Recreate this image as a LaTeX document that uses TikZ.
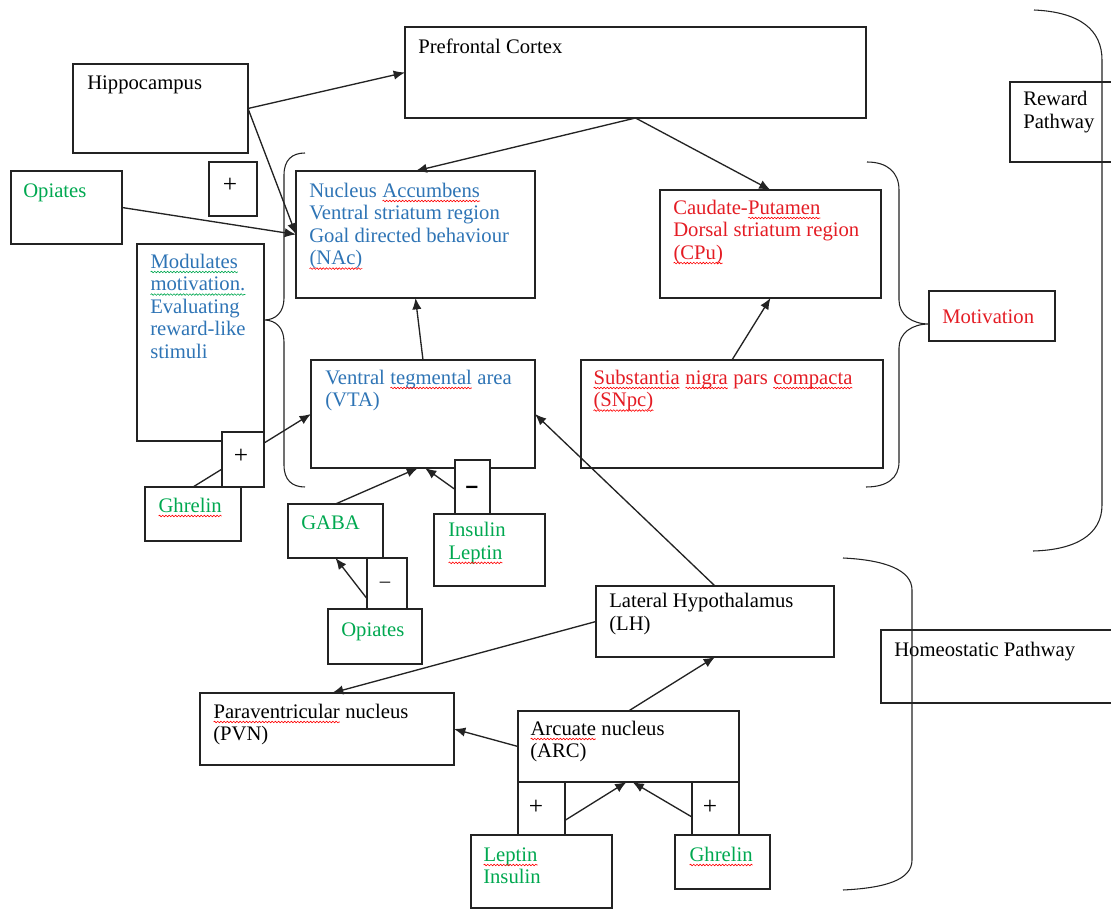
\documentclass[tikz,border=0pt]{standalone}
\usepackage{fontspec}
\setmainfont{Liberation Serif}
\setsansfont{Liberation Sans}
\usetikzlibrary{arrows.meta,fit,calc,decorations.pathmorphing}
\definecolor{tblue}{RGB}{46,116,181}
\definecolor{tred}{RGB}{228,28,36}
\definecolor{tgreen}{RGB}{0,168,80}
\definecolor{lc}{RGB}{35,35,35}
\newcommand\wavy[2]{\tikz[baseline=(wv.base)]{\node[inner sep=0pt,outer sep=0pt,anchor=base] (wv) {#2};
  \draw[#1, line width=0.45pt, decorate, decoration={snake, amplitude=0.6pt, segment length=2.4pt}]
  ([yshift=-2.8pt]wv.base west) -- ([yshift=-2.8pt]wv.base east);}}
\newcommand\rw[1]{\wavy{red}{#1}}
\newcommand\gw[1]{\wavy{tgreen}{#1}}
\begin{document}
\begin{tikzpicture}[x=0.75pt,y=-0.75pt,
  bx/.style={draw=lc, line width=0.9pt, inner sep=0pt, outer sep=0pt},
  sgbox/.style={draw=lc, line width=0.9pt, inner sep=0pt, outer sep=0pt, fill=white},
  txt/.style={anchor=north west, inner sep=0pt, align=left,
    font=\fontsize{15.5}{16.9}\selectfont, execute at begin node=\rule{0pt}{12pt}},
  sign/.style={inner sep=0pt, font=\fontsize{19}{20}\selectfont},
  conn/.style={draw=lc, line width=1pt, -{Latex[length=8.5pt,width=7pt]}},
  brc/.style={draw=lc, line width=0.8pt}]
\useasboundingbox (0,0) rectangle (1111,909);
% main boxes
\node[bx, fit={(73,64)(248,153)}] (hip) {};
\node[bx, fit={(405,27)(866,118)}] (pfc) {};
\node[bx, fit={(1010,82)(1125,162)}] (rew) {};
\node[bx, fit={(11,171)(122,244)}] (opi1) {};
\node[bx, fit={(296,171)(535,298)}] (nac) {};
\node[bx, fit={(660,190)(881,298)}] (cpu) {};
\node[bx, fit={(137,244)(264,441)}] (mod) {};
\node[bx, fit={(311,360)(535,468)}] (vta) {};
\node[bx, fit={(581,360)(883,468)}] (snpc) {};
\node[bx, fit={(929,291)(1055,341)}] (mot) {};
\node[bx, fit={(145,487)(241,541)}] (ghr1) {};
\node[bx, fit={(288,504)(383,558)}] (gaba) {};
\node[bx, fit={(434,514)(545,586)}] (ins1) {};
\node[bx, fit={(328,609)(422,664)}] (opi2) {};
\node[bx, fit={(596,586)(834,657)}] (lh) {};
\node[bx, fit={(200,693)(454,765)}] (pvn) {};
\node[bx, fit={(518,711)(739,782)}] (arc) {};
\node[bx, fit={(471,835)(612,908)}] (lep2) {};
\node[bx, fit={(675,835)(770,889)}] (ghr2) {};
\node[bx, fit={(881,630)(1125,703)}] (homeo) {};
% texts
\node[txt] (thip) at (87,73) {Hippocampus};
\node[txt] (tpfc) at (418,37) {Prefrontal Cortex};
\node[txt] (trew) at (1023,91) {Reward\\Pathway};
\node[txt, text=tgreen] (topi1) at (23,181) {Opiates};
\node[txt, text=tblue] (tnac) at (309,181) {Nucleus \rw{Accumbens}\\Ventral striatum region\\Goal directed behaviour\\\rw{(NAc)}};
\node[txt, text=tred] (tcpu) at (673,198) {Caudate-\rw{Putamen}\\Dorsal striatum region\\\rw{(CPu)}};
\node[txt, text=tblue] (tmod) at (150,252) {\gw{Modulates}\\\gw{motivation.}\\Evaluating\\reward-like\\stimuli};
\node[txt, text=tblue] (tvta) at (325,368) {Ventral \rw{tegmental} area\\(VTA)};
\node[txt, text=tred] (tsnpc) at (593,368) {\rw{Substantia} \rw{nigra} pars \rw{compacta}\\\rw{(SNpc)}};
\node[txt, text=tred] (tmot) at (942,307) {Motivation};
\node[txt, text=tgreen] (tghr1) at (158,496) {\rw{Ghrelin}};
\node[txt, text=tgreen] (tgaba) at (301,513) {GABA};
\node[txt, text=tgreen] (tins1) at (448,522) {Insulin\\\rw{Leptin}};
\node[txt, text=tgreen] (topi2) at (341,620) {Opiates};
\node[txt] (tlh) at (609,593) {Lateral Hypothalamus\\(LH)};
\node[txt] (tpvn) at (213,702) {\rw{Paraventricular} nucleus\\(PVN)};
\node[txt] (tarc) at (530,719) {\rw{Arcuate} nucleus\\(ARC)};
\node[txt, text=tgreen] (tlep2) at (483,845) {\rw{Leptin}\\Insulin};
\node[txt, text=tgreen] (tghr2) at (689,845) {\rw{Ghrelin}};
\node[txt] (thomeo) at (894,640) {Homeostatic Pathway};
% braces and brackets
\draw[brc] (305,153) .. controls (292,153) and (284,160) .. (284,175) -- (284,298)
  .. controls (284,312) and (276,320) .. (264,320)
  .. controls (276,320) and (284,328) .. (284,342) -- (284,465)
  .. controls (284,480) and (292,487) .. (305,487);
\draw[brc] (867,162) .. controls (887,162) and (899,172) .. (899,190) -- (899,300)
  .. controls (899,315) and (912,324) .. (929,324)
  .. controls (912,324) and (899,333) .. (899,348) -- (899,462)
  .. controls (899,478) and (887,487) .. (866,487);
\draw[brc] (1034,10) .. controls (1080,12) and (1102,30) .. (1102,60) -- (1102,505)
  .. controls (1102,535) and (1075,550) .. (1033,551);
\draw[brc] (843,558) .. controls (885,560) and (912,570) .. (912,590) -- (912,860)
  .. controls (912,880) and (885,888) .. (843,890);
% connectors
\draw[conn] (hip.east) -- (pfc.west);
\draw[conn] (hip.east) -- (nac.west);
\draw[conn] (opi1.east) -- (nac.west);
\draw[conn] (pfc.south) -- (nac.north);
\draw[conn] (pfc.south) -- (cpu.north);
\draw[conn] (vta.north) -- (nac.south);
\draw[conn] (snpc.north) -- (cpu.south);
\draw[conn] (ghr1.north) -- (vta.west);
\draw[conn] (gaba.north) -- ([xshift=-3.75pt]vta.south);
\draw[conn] (ins1.north) -- ([xshift=1.5pt]vta.south);
\draw[conn] (opi2.north) -- (gaba.south);
\draw[conn] (lh.north) -- (vta.east);
\draw[conn] (lh.west) -- ([xshift=3.75pt]pvn.north);
\draw[conn] (arc.north) -- (lh.south);
\draw[conn] (arc.west) -- (pvn.east);
\draw[conn] (lep2.north) -- ([xshift=-1.5pt]arc.south);
\draw[conn] (ghr2.north) -- ([xshift=3pt]arc.south);
% sign boxes
\node[sgbox, fit={(209,162)(257,216)}] (p1) {};
\node[sgbox, fit={(222,432)(264,487)}] (p2) {};
\node[sgbox, fit={(367,558)(407,609)}] (m1) {};
\node[sgbox, fit={(455,460)(490,514)}] (m2) {};
\node[sgbox, fit={(518,782)(565,835)}] (p3) {};
\node[sgbox, fit={(692,782)(739,835)}] (p4) {};
\node[sign] (sp1) at (230,185) {+};
\node[sign] (sp2) at (241,456) {+};
\node[inner sep=0pt, font=\fontsize{15.5}{17}\selectfont] (sm1) at (385,585) {\textendash};
\node[inner sep=0pt, font=\sffamily\bfseries\fontsize{17}{18}\selectfont] (sm2) at (472,490) {\textendash};
\node[sign] (sp3) at (536,807) {+};
\node[sign] (sp4) at (710,807) {+};
\end{tikzpicture}
\end{document}
